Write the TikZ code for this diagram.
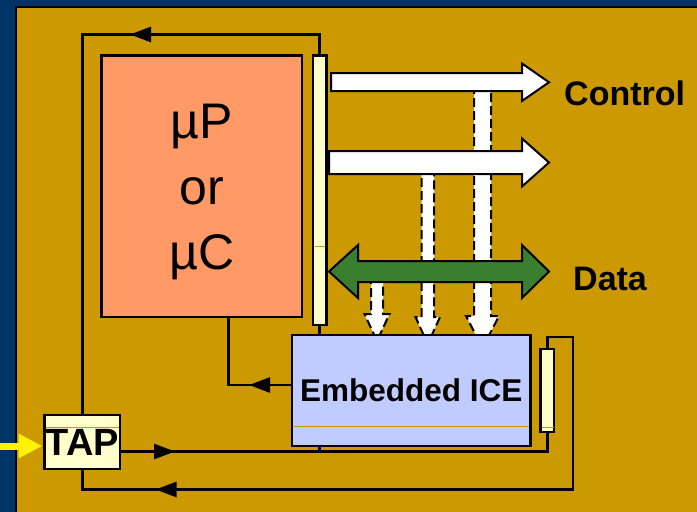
\documentclass[tikz,border=0pt]{standalone}
\usepackage{fontspec}
\setmainfont{Liberation Sans}
\usepackage{tikz}
\usetikzlibrary{arrows.meta, positioning, decorations.markings}
\usepackage{xcolor}
\definecolor{slideblue}{HTML}{003366}
\definecolor{slidegold}{HTML}{CC9900}
\definecolor{cpuorange}{HTML}{FF9966}
\definecolor{icelilac}{HTML}{C0CCFF}
\definecolor{chainyellow}{HTML}{FFFFCC}
\definecolor{datagreen}{HTML}{3A7F30}

\begin{document}
\begin{tikzpicture}[
    x=1pt, y=-1pt,
    box/.style={draw, line width=2.8pt, inner sep=0pt, outer sep=0pt, anchor=north west},
    cpubox/.style={box, fill=cpuorange},
    icebox/.style={box, fill=icelilac, font=\fontsize{31.5}{36}\selectfont\bfseries},
    tapbox/.style={box, fill=chainyellow, font=\fontsize{38}{40}\selectfont\bfseries},
    chainbar/.style={draw, line width=2.3pt, fill=chainyellow, inner sep=0pt, outer sep=0pt, minimum width=13.5pt},
    bigtext/.style={font=\fontsize{50}{65.5}\selectfont, align=center, inner sep=0pt},
    sigtext/.style={font=\fontsize{34}{38}\selectfont\bfseries, inner sep=0pt},
    wire/.style={line width=2.8pt},
    bus/.style={draw, line width=2pt, fill=white},
    probe/.style={draw, line width=2pt, fill=white, dash pattern=on 9pt off 4pt},
    guide/.style={slidegold, line width=0.8pt},
    jtag/.style={draw=yellow, line width=7pt, -{Triangle[length=24pt, width=23pt]}, shorten >=2pt},
    mid arrow/.style={postaction={decorate}, decoration={markings,
        mark=at position #1 with {\arrow{Triangle[length=21pt, width=15pt]}}}}
]

\useasboundingbox (0,0) rectangle (697,512);

% Slide background
\fill[slideblue] (0,0) rectangle (697,512);
\fill[slidegold] (16.25,7.25) rectangle (697,512);
\draw[line width=2.2pt] (16.25,512) -- (16.25,7.25) -- (697,7.25);

% Probe paths into the ICE
\draw[probe] (474,85) -- (474,316) -- (466,316) -- (482.5,348) -- (499,316) -- (491,316) -- (491,85) -- cycle;
\draw[probe] (421.5,165) -- (421.5,317) -- (415.5,317) -- (427.75,344) -- (440,317) -- (434,317) -- (434,165) -- cycle;
\draw[probe] (371,275) -- (371,314) -- (364.5,314) -- (377,341) -- (389.5,314) -- (383,314) -- (383,275) -- cycle;

% Buses
\draw[bus] (331,73) -- (522,73) -- (522,63.5) -- (549,82.25) -- (522,101) -- (522,91) -- (331,91) -- cycle;
\draw[bus] (329,151) -- (522,151) -- (522,138.5) -- (549,162.5) -- (522,186.5) -- (522,174) -- (329,174) -- cycle;
\draw[bus, fill=datagreen] (329,271.5) -- (358,245) -- (358,261) -- (522,261) -- (522,245) -- (549,271.5)
    -- (522,298) -- (522,282) -- (358,282) -- (358,298) -- cycle;

% Blocks
\node[cpubox, minimum width=200.5pt, minimum height=261.5pt] (mcu) at (101.5,55.5) {};
\node[bigtext, anchor=north] (mcutext) at (201.75,104) {µP\\or\\µC};
\node[chainbar, minimum height=269.5pt, right=11pt of mcu.north east, anchor=north west] (chain) {};
\node[icebox, minimum width=238.5pt, minimum height=111pt] (ice) at (292,335) {Embedded ICE};
\node[chainbar, minimum height=83pt, right=10pt of ice] (iceport) {};
\node[tapbox, minimum width=75.5pt, minimum height=54pt] (tap) at (44.5,415) {TAP};

% Labels
\node[sigtext, anchor=base west] (ctrl) at (564,105) {Control};
\node[sigtext, anchor=base west] (data) at (573,290) {Data};

% Guide lines
\draw[guide] (314.5,246) -- (325,246);
\draw[guide] (293.5,426) -- (529,426);
\draw[guide] (542,427) -- (553.5,427);
\draw[guide] (46,427) -- (118.5,427);

% Scan chain
\coordinate (mcuport) at (228.5,317);
\coordinate (scanrow) at (0,451.5);
\coordinate (loopne) at (573,337);
\coordinate (loopse) at (573,489.5);
\coordinate (jtagin) at (0,446);

\draw[wire, mid arrow=210.75pt] (chain.north) -- ++(0,-21) -| (tap.north);
\draw[wire] (chain.south) -- (chain.south |- ice.north);
\draw[wire, mid arrow=43pt] (ice.west |- 0,385) -| (mcuport);
\draw[wire, mid arrow=55pt] (tap.east |- scanrow) -| (iceport.south);
\draw[wire] (chain.south |- ice.south) -- (chain.south |- scanrow);
\draw[wire, mid arrow=607.75pt] (iceport.north) |- (loopne) -- (loopse) -| (tap.south);
\draw[jtag] (jtagin) -- (jtagin -| tap.west);

\end{tikzpicture}
\end{document}
